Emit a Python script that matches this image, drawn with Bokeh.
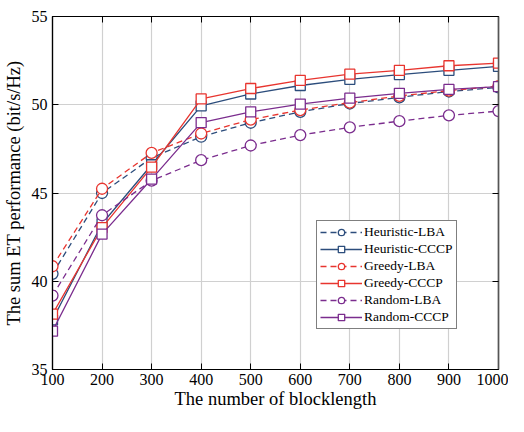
from bokeh.plotting import figure
from bokeh.models import Range1d, LinearAxis, Legend, LegendItem, FixedTicker, CustomLabelingPolicy
from bokeh.embed import file_html
from bokeh.resources import INLINE

x = [100, 200, 300, 400, 500, 600, 700, 800, 900, 1000]
heuristic_lba = [40.42, 45.00, 46.99, 48.19, 48.98, 49.60, 50.07, 50.42, 50.75, 50.98]
heuristic_cccp = [37.81, 43.26, 46.60, 49.94, 50.61, 51.09, 51.44, 51.71, 51.95, 52.17]
greedy_lba = [40.85, 45.24, 47.27, 48.37, 49.16, 49.70, 50.12, 50.50, 50.80, 51.05]
greedy_cccp = [38.14, 43.04, 46.47, 50.33, 50.92, 51.38, 51.73, 51.95, 52.21, 52.36]
random_lba = [39.19, 43.74, 45.70, 46.86, 47.69, 48.28, 48.72, 49.07, 49.40, 49.64]
random_cccp = [37.17, 42.67, 45.79, 48.99, 49.60, 50.04, 50.37, 50.65, 50.87, 51.03]

x_ticks = [100, 200, 300, 400, 500, 600, 700, 800, 900, 1000]
y_ticks = [35, 40, 45, 50, 55]

FONT = "Liberation Serif"
BLUE = "#2c4d7c"
RED = "#e8352f"
PURPLE = "#7b2d8e"

p = figure(width=508, height=416, output_backend="svg", toolbar_location=None,
           x_range=Range1d(100, 1000), y_range=Range1d(35, 55),
           min_border_left=46, min_border_right=10, min_border_top=7, min_border_bottom=47)
p.background_fill_color = "white"
p.border_fill_color = "white"
p.outline_line_color = "black"
p.outline_line_width = 1.2

for ax, tk in ((p.xaxis[0], x_ticks), (p.yaxis[0], y_ticks)):
    ax.ticker = FixedTicker(ticks=tk)
    ax.major_tick_in = 6
    ax.major_tick_out = 0
    ax.minor_tick_in = 0
    ax.minor_tick_out = 0
    ax.axis_line_color = "black"
    ax.axis_line_width = 1.2
    ax.major_tick_line_color = "black"
    ax.major_label_text_font = FONT
    ax.major_label_text_font_size = "16px"
    ax.major_label_text_color = "black"
    ax.major_label_text_line_height = 1.0
    ax.axis_label_text_font = FONT
    ax.axis_label_text_font_size = "18.5px"
    ax.axis_label_text_font_style = "normal"
    ax.axis_label_text_color = "black"
    ax.axis_label_text_line_height = 1.0

p.xaxis.axis_label = "The number of blocklength"
p.yaxis.axis_label = "The sum ET performance (bit/s/Hz)"
p.xaxis.major_label_standoff = 4
p.yaxis.major_label_standoff = 5
p.xaxis.axis_label_standoff = 1
p.yaxis.axis_label_standoff = 5

hide_all = "const n = indices.size; for (let i = 0; i < n; i++) { indices.unset(i) } return indices"
top = LinearAxis(ticker=FixedTicker(ticks=x_ticks), major_tick_in=6, major_tick_out=0,
                 minor_tick_in=0, minor_tick_out=0,
                 major_label_policy=CustomLabelingPolicy(code=hide_all),
                 axis_line_color="black", axis_line_width=1.2)
right = LinearAxis(ticker=FixedTicker(ticks=y_ticks), major_tick_in=6, major_tick_out=0,
                   minor_tick_in=0, minor_tick_out=0, major_label_standoff=0,
                   major_label_overrides={t: "" for t in y_ticks},
                   major_label_policy=CustomLabelingPolicy(code=hide_all),
                   axis_line_color="#555555", axis_line_width=1.5)
p.add_layout(top, "above")
p.add_layout(right, "right")

p.xgrid.ticker = FixedTicker(ticks=x_ticks)
p.ygrid.ticker = FixedTicker(ticks=y_ticks)
p.grid.grid_line_color = "#d0d0d0"
p.grid.grid_line_width = 1.2

series = [
    ("Heuristic-LBA", heuristic_lba, BLUE, "6 4", "circle"),
    ("Heuristic-CCCP", heuristic_cccp, BLUE, "solid", "square"),
    ("Greedy-LBA", greedy_lba, RED, "6 4", "circle"),
    ("Greedy-CCCP", greedy_cccp, RED, "solid", "square"),
    ("Random-LBA", random_lba, PURPLE, "6 4", "circle"),
    ("Random-CCCP", random_cccp, PURPLE, "solid", "square"),
]

items = []
for name, ys, col, dash, mk in series:
    l = p.line(x, ys, line_color=col, line_width=1.3, line_dash=dash)
    s = p.scatter(x, ys, marker=mk, size=11 if mk == "circle" else 10,
                  line_color=col, line_width=1.3, fill_color="white")
    items.append(LegendItem(label=name, renderers=[l, s]))

legend = Legend(items=items, location=(264, 40))
legend.label_text_font = FONT
legend.label_text_font_size = "13.5px"
legend.label_text_color = "black"
legend.border_line_color = "black"
legend.border_line_width = 1
legend.background_fill_alpha = 1
legend.glyph_width = 42
legend.glyph_height = 16
legend.label_height = 16
legend.spacing = 1
legend.padding = 3
legend.margin = 0
legend.label_standoff = 2
p.add_layout(legend, "center")

open("out.html", "w").write(file_html(p, INLINE))
